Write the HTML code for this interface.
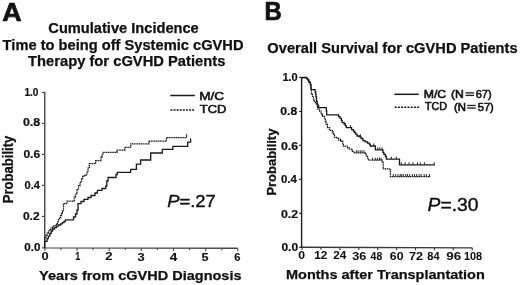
<!DOCTYPE html>
<html><head><meta charset="utf-8"><style>
html,body{margin:0;padding:0;background:#fff;width:520px;height:285px;overflow:hidden}
svg{display:block;filter:grayscale(1)}
text{font-family:"Liberation Sans",sans-serif;fill:#111}
</style></head><body>
<svg width="520" height="285" viewBox="0 0 520 285">
<rect width="520" height="285" fill="#fff"/>
<text x="2.29" y="20.90" font-size="25.20" font-weight="bold" textLength="19.36" lengthAdjust="spacingAndGlyphs" stroke="#111" stroke-width="0.70">A</text>
<text x="264.59" y="20.40" font-size="25.20" font-weight="bold" textLength="17.25" lengthAdjust="spacingAndGlyphs" stroke="#111" stroke-width="0.70">B</text>
<text x="48.39" y="32.90" font-size="14.20" font-weight="bold" textLength="150.35" lengthAdjust="spacingAndGlyphs" stroke="#111" stroke-width="0.25">Cumulative Incidence</text>
<text x="2.64" y="49.70" font-size="14.20" font-weight="bold" textLength="240.89" lengthAdjust="spacingAndGlyphs" stroke="#111" stroke-width="0.25">Time to being off Systemic cGVHD</text>
<text x="28.07" y="66.30" font-size="14.20" font-weight="bold" textLength="197.31" lengthAdjust="spacingAndGlyphs" stroke="#111" stroke-width="0.25">Therapy for cGVHD Patients</text>
<text x="267.39" y="52.80" font-size="14.20" font-weight="bold" textLength="250.23" lengthAdjust="spacingAndGlyphs" stroke="#111" stroke-width="0.25">Overall Survival for cGVHD Patients</text>
<text x="39.11" y="279.60" font-size="13.30" font-weight="bold" textLength="202.43" lengthAdjust="spacingAndGlyphs" stroke="#111" stroke-width="0.25">Years from cGVHD Diagnosis</text>
<text x="286.02" y="279.10" font-size="13.10" font-weight="bold" textLength="198.79" lengthAdjust="spacingAndGlyphs" stroke="#111" stroke-width="0.25">Months after Transplantation</text>
<text x="199.25" y="99.60" font-size="10.90" font-weight="normal" textLength="24.83" lengthAdjust="spacingAndGlyphs" stroke="#111" stroke-width="0.55">M/C</text>
<text x="199.76" y="113.00" font-size="10.90" font-weight="normal" textLength="26.53" lengthAdjust="spacingAndGlyphs" stroke="#111" stroke-width="0.55">TCD</text>
<text x="423.79" y="97.50" font-size="10.20" font-weight="normal" textLength="22.39" lengthAdjust="spacingAndGlyphs" stroke="#111" stroke-width="0.55">M/C</text>
<text x="450.96" y="97.60" font-size="10.20" font-weight="normal" textLength="12.88" lengthAdjust="spacingAndGlyphs" stroke="#111" stroke-width="0.55">(N</text>
<text x="475.76" y="97.60" font-size="10.20" font-weight="normal" textLength="15.83" lengthAdjust="spacingAndGlyphs" stroke="#111" stroke-width="0.55">67)</text>
<text x="424.93" y="110.30" font-size="10.60" font-weight="normal" textLength="21.99" lengthAdjust="spacingAndGlyphs" stroke="#111" stroke-width="0.55">TCD</text>
<text x="454.00" y="110.70" font-size="10.20" font-weight="normal" textLength="12.00" lengthAdjust="spacingAndGlyphs" stroke="#111" stroke-width="0.55">(N</text>
<text x="477.80" y="110.70" font-size="10.20" font-weight="normal" textLength="15.98" lengthAdjust="spacingAndGlyphs" stroke="#111" stroke-width="0.55">57)</text>
<text x="167.18" y="206.60" font-size="17.13" font-weight="normal" textLength="48.67" lengthAdjust="spacingAndGlyphs" stroke="#111" stroke-width="0.40"><tspan font-style="italic">P</tspan>=.27</text>
<text x="427.62" y="211.40" font-size="18.63" font-weight="normal" textLength="50.95" lengthAdjust="spacingAndGlyphs" stroke="#111" stroke-width="0.40"><tspan font-style="italic">P</tspan>=.30</text>
<text x="24.45" y="96.40" font-size="10.30" font-weight="bold" textLength="14.04" lengthAdjust="spacingAndGlyphs" stroke="#111" stroke-width="0.20">1.0</text>
<text x="22.93" y="126.00" font-size="10.30" font-weight="bold" textLength="17.22" lengthAdjust="spacingAndGlyphs" stroke="#111" stroke-width="0.20">0.8</text>
<text x="23.42" y="157.80" font-size="10.30" font-weight="bold" textLength="16.70" lengthAdjust="spacingAndGlyphs" stroke="#111" stroke-width="0.20">0.6</text>
<text x="24.56" y="189.40" font-size="10.30" font-weight="bold" textLength="15.38" lengthAdjust="spacingAndGlyphs" stroke="#111" stroke-width="0.20">0.4</text>
<text x="22.93" y="220.40" font-size="10.30" font-weight="bold" textLength="16.72" lengthAdjust="spacingAndGlyphs" stroke="#111" stroke-width="0.20">0.2</text>
<text x="24.34" y="251.20" font-size="10.30" font-weight="bold" textLength="16.15" lengthAdjust="spacingAndGlyphs" stroke="#111" stroke-width="0.20">0.0</text>
<text x="282.41" y="81.20" font-size="10.30" font-weight="bold" textLength="15.38" lengthAdjust="spacingAndGlyphs" stroke="#111" stroke-width="0.20">1.0</text>
<text x="280.34" y="115.00" font-size="10.30" font-weight="bold" textLength="16.88" lengthAdjust="spacingAndGlyphs" stroke="#111" stroke-width="0.20">0.8</text>
<text x="280.93" y="149.60" font-size="10.30" font-weight="bold" textLength="17.14" lengthAdjust="spacingAndGlyphs" stroke="#111" stroke-width="0.20">0.6</text>
<text x="280.93" y="183.00" font-size="10.30" font-weight="bold" textLength="15.95" lengthAdjust="spacingAndGlyphs" stroke="#111" stroke-width="0.20">0.4</text>
<text x="280.93" y="217.60" font-size="10.30" font-weight="bold" textLength="17.22" lengthAdjust="spacingAndGlyphs" stroke="#111" stroke-width="0.20">0.2</text>
<text x="281.45" y="250.80" font-size="10.30" font-weight="bold" textLength="16.60" lengthAdjust="spacingAndGlyphs" stroke="#111" stroke-width="0.20">0.0</text>
<text x="41.47" y="260.30" font-size="10.30" font-weight="bold" textLength="7.15" lengthAdjust="spacingAndGlyphs" stroke="#111" stroke-width="0.10">0</text>
<text x="75.22" y="260.37" font-size="10.30" font-weight="bold" textLength="5.05" lengthAdjust="spacingAndGlyphs" stroke="#111" stroke-width="0.10">1</text>
<text x="105.15" y="260.43" font-size="10.30" font-weight="bold" textLength="7.26" lengthAdjust="spacingAndGlyphs" stroke="#111" stroke-width="0.10">2</text>
<text x="137.58" y="260.50" font-size="10.30" font-weight="bold" textLength="7.15" lengthAdjust="spacingAndGlyphs" stroke="#111" stroke-width="0.10">3</text>
<text x="169.68" y="260.57" font-size="10.30" font-weight="bold" textLength="7.58" lengthAdjust="spacingAndGlyphs" stroke="#111" stroke-width="0.10">4</text>
<text x="201.58" y="260.63" font-size="10.30" font-weight="bold" textLength="7.05" lengthAdjust="spacingAndGlyphs" stroke="#111" stroke-width="0.10">5</text>
<text x="234.32" y="260.70" font-size="10.30" font-weight="bold" textLength="6.26" lengthAdjust="spacingAndGlyphs" stroke="#111" stroke-width="0.10">6</text>
<text x="298.26" y="259.40" font-size="10.40" font-weight="bold" textLength="6.74" lengthAdjust="spacingAndGlyphs" stroke="#111" stroke-width="0.05">0</text>
<text x="314.30" y="259.43" font-size="10.40" font-weight="bold" textLength="13.13" lengthAdjust="spacingAndGlyphs" stroke="#111" stroke-width="0.05">12</text>
<text x="333.32" y="259.47" font-size="10.40" font-weight="bold" textLength="13.12" lengthAdjust="spacingAndGlyphs" stroke="#111" stroke-width="0.05">24</text>
<text x="352.22" y="259.50" font-size="10.40" font-weight="bold" textLength="14.06" lengthAdjust="spacingAndGlyphs" stroke="#111" stroke-width="0.05">36</text>
<text x="370.64" y="259.53" font-size="10.40" font-weight="bold" textLength="11.64" lengthAdjust="spacingAndGlyphs" stroke="#111" stroke-width="0.05">48</text>
<text x="389.87" y="259.57" font-size="10.40" font-weight="bold" textLength="13.65" lengthAdjust="spacingAndGlyphs" stroke="#111" stroke-width="0.05">60</text>
<text x="408.94" y="259.60" font-size="10.40" font-weight="bold" textLength="13.98" lengthAdjust="spacingAndGlyphs" stroke="#111" stroke-width="0.05">72</text>
<text x="427.26" y="259.63" font-size="10.40" font-weight="bold" textLength="12.31" lengthAdjust="spacingAndGlyphs" stroke="#111" stroke-width="0.05">84</text>
<text x="446.26" y="259.67" font-size="10.40" font-weight="bold" textLength="14.92" lengthAdjust="spacingAndGlyphs" stroke="#111" stroke-width="0.05">96</text>
<text x="463.90" y="259.70" font-size="10.40" font-weight="bold" textLength="18.11" lengthAdjust="spacingAndGlyphs" stroke="#111" stroke-width="0.05">108</text>
<text x="13.20" y="203.20" font-size="13.90" font-weight="bold" textLength="67.50" lengthAdjust="spacingAndGlyphs" stroke="#111" stroke-width="0.25" transform="rotate(-90 13.20 203.20)">Probability</text>
<text x="275.80" y="195.60" font-size="13.40" font-weight="bold" textLength="67.00" lengthAdjust="spacingAndGlyphs" stroke="#111" stroke-width="0.25" transform="rotate(-90 275.80 195.60)">Probability</text>
<path d="M44.75 91.70 L44.75 247.85 L237.80 248.20" fill="none" stroke="#484848" stroke-width="1.4"/>
<path d="M41.95 92.50 H44.75" stroke="#484848" stroke-width="1.2"/>
<path d="M41.95 123.40 H44.75" stroke="#484848" stroke-width="1.2"/>
<path d="M41.95 154.40 H44.75" stroke="#484848" stroke-width="1.2"/>
<path d="M41.95 185.40 H44.75" stroke="#484848" stroke-width="1.2"/>
<path d="M41.95 216.40 H44.75" stroke="#484848" stroke-width="1.2"/>
<path d="M41.95 247.85 H44.75" stroke="#484848" stroke-width="1.2"/>
<path d="M44.90 247.85 V250.85" stroke="#484848" stroke-width="1.1"/>
<path d="M60.97 247.88 V249.88" stroke="#484848" stroke-width="1.1"/>
<path d="M77.05 247.91 V250.91" stroke="#484848" stroke-width="1.1"/>
<path d="M93.12 247.94 V249.94" stroke="#484848" stroke-width="1.1"/>
<path d="M109.20 247.97 V250.97" stroke="#484848" stroke-width="1.1"/>
<path d="M125.28 248.00 V250.00" stroke="#484848" stroke-width="1.1"/>
<path d="M141.35 248.03 V251.03" stroke="#484848" stroke-width="1.1"/>
<path d="M157.42 248.05 V250.05" stroke="#484848" stroke-width="1.1"/>
<path d="M173.50 248.08 V251.08" stroke="#484848" stroke-width="1.1"/>
<path d="M189.58 248.11 V250.11" stroke="#484848" stroke-width="1.1"/>
<path d="M205.65 248.14 V251.14" stroke="#484848" stroke-width="1.1"/>
<path d="M221.73 248.17 V250.17" stroke="#484848" stroke-width="1.1"/>
<path d="M237.80 248.20 V251.20" stroke="#484848" stroke-width="1.1"/>
<path d="M300.90 247.30 L472.50 247.90" fill="none" stroke="#383838" stroke-width="1.4"/>
<path d="M301.60 77.30 L301.60 248.00" fill="none" stroke="#1c1c1c" stroke-width="1.4"/>
<path d="M299.20 247.30 H301.60" stroke="#202020" stroke-width="1.2"/>
<path d="M299.20 213.32 H301.60" stroke="#202020" stroke-width="1.2"/>
<path d="M299.20 179.34 H301.60" stroke="#202020" stroke-width="1.2"/>
<path d="M299.20 145.36 H301.60" stroke="#202020" stroke-width="1.2"/>
<path d="M299.20 111.38 H301.60" stroke="#202020" stroke-width="1.2"/>
<path d="M299.20 77.40 H301.60" stroke="#202020" stroke-width="1.2"/>
<path d="M302.10 247.30 V249.80" stroke="#383838" stroke-width="1.1"/>
<path d="M321.00 247.37 V249.87" stroke="#383838" stroke-width="1.1"/>
<path d="M339.90 247.43 V249.93" stroke="#383838" stroke-width="1.1"/>
<path d="M358.80 247.50 V250.00" stroke="#383838" stroke-width="1.1"/>
<path d="M377.70 247.57 V250.07" stroke="#383838" stroke-width="1.1"/>
<path d="M396.60 247.63 V250.13" stroke="#383838" stroke-width="1.1"/>
<path d="M415.50 247.70 V250.20" stroke="#383838" stroke-width="1.1"/>
<path d="M434.40 247.77 V250.27" stroke="#383838" stroke-width="1.1"/>
<path d="M453.30 247.83 V250.33" stroke="#383838" stroke-width="1.1"/>
<path d="M472.20 247.90 V250.40" stroke="#383838" stroke-width="1.1"/>
<path d="M170.3 95.5 H194.8" stroke="#1a1a1a" stroke-width="1.5"/>
<path d="M170.4 109.9 H195.2" stroke="#1a1a1a" stroke-width="1.5" stroke-dasharray="2 1.1"/>
<path d="M394.3 94.3 H418.8" stroke="#1a1a1a" stroke-width="1.5"/>
<path d="M394.7 107.3 H419.6" stroke="#1a1a1a" stroke-width="1.5" stroke-dasharray="2 1.2"/>
<rect x="465.5" y="92.2" width="8.5" height="1.35" fill="#222"/>
<rect x="465.5" y="94.7" width="8.5" height="1.35" fill="#222"/>
<rect x="467.2" y="104.8" width="8.4" height="1.35" fill="#222"/>
<rect x="467.2" y="107.4" width="8.4" height="1.35" fill="#222"/>
<path d="M44.5 247.3 H44.6 V241.4 H47.0 V238.7 H48.3 V236.1 H49.8 V233.5 H51.2 V231.0 H52.6 V229.0 H54.5 V227.5 H56.5 V226.2 H58.5 V225.0 H60.5 V223.8 H62.3 V222.6 H64.0 V221.4 H65.4 V219.8 H73.5 V217.0 H75.5 V214.0 H77.0 V210.0 H78.0 V203.6 H81.0 V201.5 H84.0 V199.4 H88.0 V197.5 H91.0 V195.5 H95.0 V193.0 H97.4 V190.3 H102.0 V188.5 H105.8 V186.0 H106.8 V181.0 H108.1 V177.5 H116.0 V174.5 H117.2 V172.4 H130.7 V169.4 H136.4 V164.2 H140.6 V160.0 H150.7 V153.0 H162.3 V149.4 H172.9 V146.4 H187.7 V142.2 H190.6 V139.0 H190.9" fill="none" stroke="#1a1a1a" stroke-width="1.3"/>
<path d="M44.5 247.3 H44.6 V237.0 H46.0 V235.0 H47.2 V233.0 H48.4 V231.0 H49.6 V229.5 H51.0 V228.0 H52.5 V226.5 H54.0 V225.5 H56.5 V224.2 H57.5 V222.0 H58.5 V219.5 H59.5 V217.5 H60.5 V215.5 H61.5 V213.5 H62.3 V211.0 H63.5 V203.6 H67.0 V201.0 H74.2 V197.0 H75.5 V193.8 H77.0 V189.5 H78.5 V185.5 H80.0 V182.0 H81.5 V178.5 H82.6 V176.2 H85.0 V175.0 H87.0 V172.0 H88.0 V168.0 H89.3 V163.5 H95.6 V160.5 H101.0 V157.0 H102.0 V155.0 H103.0 V152.3 H117.0 V150.2 H125.0 V147.3 H130.7 V143.8 H149.0 V141.0 H166.5 V137.5 H186.7" fill="none" stroke="#1a1a1a" stroke-width="1.25" stroke-dasharray="1.3 0.5"/>
<path d="M186.7 137.5 V134.2" stroke="#1a1a1a" stroke-width="1"/>
<path d="M301.8 77.5 H306.8 V78.6 H307.8 V80.2 H308.8 V81.8 H309.5 V82.3 H310.4 V84.4 H310.9 V87.6 H311.2 V89.7 H315.1 V91.8 H315.7 V94.5 H316.0 V97.0 H316.5 V101.3 H317.2 V104.4 H318.0 V106.0 H318.6 V107.7 H326.3 V111.0 H326.7 V114.9 H338.6 V116.6 H340.0 V118.4 H341.4 V120.5 H342.1 V122.6 H344.2 V124.0 H345.3 V125.8 H346.3 V127.6 H351.6 V129.7 H353.4 V131.1 H354.5 V132.5 H355.5 V134.2 H357.0 V136.0 H359.4 V136.8 H361.0 V138.5 H363.0 V140.6 H365.0 V141.9 H367.5 V143.2 H369.5 V144.4 H370.3 V146.0 H375.3 V149.8 H382.9 V152.3 H383.9 V154.4 H385.4 V156.5 H386.4 V159.2 H399.5 V164.8 H434.8" fill="none" stroke="#1a1a1a" stroke-width="1.3"/>
<path d="M301.8 77.5 H306.8 V78.6 H307.8 V80.2 H308.8 V81.8 H309.5 V82.3 H310.4 V84.4 H310.9 V89.7 H311.4 V93.9 H312.5 V97.0 H313.5 V100.2 H314.6 V102.3 H316.2 V103.9 H317.3 V106.0 H317.7 V109.1 H319.5 V111.0 H321.0 V112.8 H321.8 V114.5 H322.5 V116.3 H324.6 V118.4 H325.3 V121.0 H326.0 V124.0 H327.4 V127.6 H329.5 V130.4 H332.3 V131.8 H333.2 V133.5 H333.9 V135.3 H334.5 V137.4 H336.5 V138.1 H338.6 V140.2 H340.8 V141.2 H342.8 V143.6 H343.4 V146.1 H347.5 V147.8 H349.3 V149.0 H352.3 V151.4 H353.9 V152.8 H365.2 V154.1 H366.1 V155.8 H367.5 V158.2 H368.4 V160.2 H382.2 V161.5 H383.2 V168.9 H390.4 V176.6 H430.3" fill="none" stroke="#1a1a1a" stroke-width="1.25" stroke-dasharray="1.3 0.5"/>
<path d="M350.6 127.6 V125.1" stroke="#1a1a1a" stroke-width="0.95"/>
<path d="M360.4 136.8 V134.3" stroke="#1a1a1a" stroke-width="0.95"/>
<path d="M373.7 146.0 V143.5" stroke="#1a1a1a" stroke-width="0.95"/>
<path d="M377.8 149.8 V147.3" stroke="#1a1a1a" stroke-width="0.95"/>
<path d="M379.8 149.8 V147.3" stroke="#1a1a1a" stroke-width="0.95"/>
<path d="M382.0 149.8 V147.3" stroke="#1a1a1a" stroke-width="0.95"/>
<path d="M391.4 159.2 V156.7" stroke="#1a1a1a" stroke-width="0.95"/>
<path d="M396.3 159.2 V156.7" stroke="#1a1a1a" stroke-width="0.95"/>
<path d="M401.3 164.8 V162.3" stroke="#1a1a1a" stroke-width="0.95"/>
<path d="M405.1 164.8 V162.3" stroke="#1a1a1a" stroke-width="0.95"/>
<path d="M409.1 164.8 V162.3" stroke="#1a1a1a" stroke-width="0.95"/>
<path d="M413.0 164.8 V162.3" stroke="#1a1a1a" stroke-width="0.95"/>
<path d="M417.5 164.8 V162.3" stroke="#1a1a1a" stroke-width="0.95"/>
<path d="M420.4 164.8 V162.3" stroke="#1a1a1a" stroke-width="0.95"/>
<path d="M424.4 164.8 V162.3" stroke="#1a1a1a" stroke-width="0.95"/>
<path d="M434.2 164.8 V162.3" stroke="#1a1a1a" stroke-width="0.95"/>
<path d="M340.5 141.2 V138.7" stroke="#1a1a1a" stroke-width="0.95"/>
<path d="M356.4 152.8 V150.3" stroke="#1a1a1a" stroke-width="0.95"/>
<path d="M358.1 152.8 V150.3" stroke="#1a1a1a" stroke-width="0.95"/>
<path d="M360.2 152.8 V150.3" stroke="#1a1a1a" stroke-width="0.95"/>
<path d="M361.9 152.8 V150.3" stroke="#1a1a1a" stroke-width="0.95"/>
<path d="M364.0 152.8 V150.3" stroke="#1a1a1a" stroke-width="0.95"/>
<path d="M372.6 160.2 V157.7" stroke="#1a1a1a" stroke-width="0.95"/>
<path d="M375.3 160.2 V157.7" stroke="#1a1a1a" stroke-width="0.95"/>
<path d="M377.4 160.2 V157.7" stroke="#1a1a1a" stroke-width="0.95"/>
<path d="M379.5 160.2 V157.7" stroke="#1a1a1a" stroke-width="0.95"/>
<path d="M381.0 160.2 V157.7" stroke="#1a1a1a" stroke-width="0.95"/>
<path d="M393.3 176.6 V174.1" stroke="#1a1a1a" stroke-width="0.95"/>
<path d="M395.7 176.6 V174.1" stroke="#1a1a1a" stroke-width="0.95"/>
<path d="M398.0 176.6 V174.1" stroke="#1a1a1a" stroke-width="0.95"/>
<path d="M400.2 176.6 V174.1" stroke="#1a1a1a" stroke-width="0.95"/>
<path d="M401.7 176.6 V174.1" stroke="#1a1a1a" stroke-width="0.95"/>
<path d="M403.3 176.6 V174.1" stroke="#1a1a1a" stroke-width="0.95"/>
<path d="M405.7 176.6 V174.1" stroke="#1a1a1a" stroke-width="0.95"/>
<path d="M407.5 176.6 V174.1" stroke="#1a1a1a" stroke-width="0.95"/>
<path d="M409.7 176.6 V174.1" stroke="#1a1a1a" stroke-width="0.95"/>
<path d="M412.4 176.6 V174.1" stroke="#1a1a1a" stroke-width="0.95"/>
<path d="M414.4 176.6 V174.1" stroke="#1a1a1a" stroke-width="0.95"/>
<path d="M416.6 176.6 V174.1" stroke="#1a1a1a" stroke-width="0.95"/>
<path d="M419.1 176.6 V174.1" stroke="#1a1a1a" stroke-width="0.95"/>
<path d="M421.1 176.6 V174.1" stroke="#1a1a1a" stroke-width="0.95"/>
<path d="M424.2 176.6 V174.1" stroke="#1a1a1a" stroke-width="0.95"/>
<path d="M426.4 176.6 V174.1" stroke="#1a1a1a" stroke-width="0.95"/>
<path d="M429.5 176.6 V174.1" stroke="#1a1a1a" stroke-width="0.95"/>
</svg>
</body></html>
